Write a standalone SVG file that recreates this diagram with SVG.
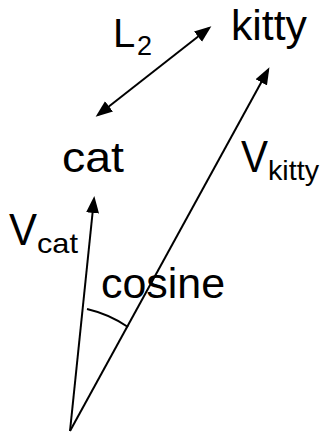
<svg xmlns="http://www.w3.org/2000/svg" width="320" height="432" viewBox="0 0 320 432">
<style>
text{font-family:"Liberation Sans",Arial,sans-serif;fill:#000}
.big{font-size:42px}
.sub{font-size:28px}
.ln{stroke:#000;stroke-width:2;fill:none}
</style>
<defs>
<marker id="ah" markerUnits="userSpaceOnUse" markerWidth="18" markerHeight="14" refX="14" refY="6.5" orient="auto-start-reverse" viewBox="0 0 18 13">
<path d="M0,0 L17,6.5 L0,13 z" fill="#000"/>
</marker>
</defs>
<rect width="320" height="432" fill="#fff"/>
<g id="connectors">
<line id="vcat" class="ln" x1="70" y1="431" x2="94" y2="199" marker-end="url(#ah)"/>
<line id="vkitty" class="ln" x1="70" y1="431" x2="268" y2="70" marker-end="url(#ah)"/>
<line id="l2" class="ln" x1="98" y1="115" x2="209" y2="28" marker-start="url(#ah)" marker-end="url(#ah)"/>
<path id="arc" class="ln" d="M87,309 A121,121 0 0 1 128,327"/>
</g>
<g id="kitty"><text class="big" x="231" y="40" textLength="76" lengthAdjust="spacingAndGlyphs">kitty</text></g>
<g id="cat"><text class="big" x="62" y="172" textLength="62" lengthAdjust="spacingAndGlyphs">cat</text></g>
<g id="L2label"><text x="113" y="47" style="font-size:40px">L</text><text x="137" y="55" style="font-size:27px">2</text></g>
<g id="Vkitty"><text x="241" y="172" style="font-size:44px" textLength="27" lengthAdjust="spacingAndGlyphs">V</text><text class="sub" x="268" y="180" textLength="51" lengthAdjust="spacingAndGlyphs">kitty</text></g>
<g id="Vcat"><text x="9" y="245" style="font-size:44px" textLength="28" lengthAdjust="spacingAndGlyphs">V</text><text class="sub" x="37" y="253" textLength="41" lengthAdjust="spacingAndGlyphs">cat</text></g>
<g id="cosine"><text x="101" y="298" style="font-size:43px" textLength="124" lengthAdjust="spacingAndGlyphs">cosine</text></g>
</svg>
